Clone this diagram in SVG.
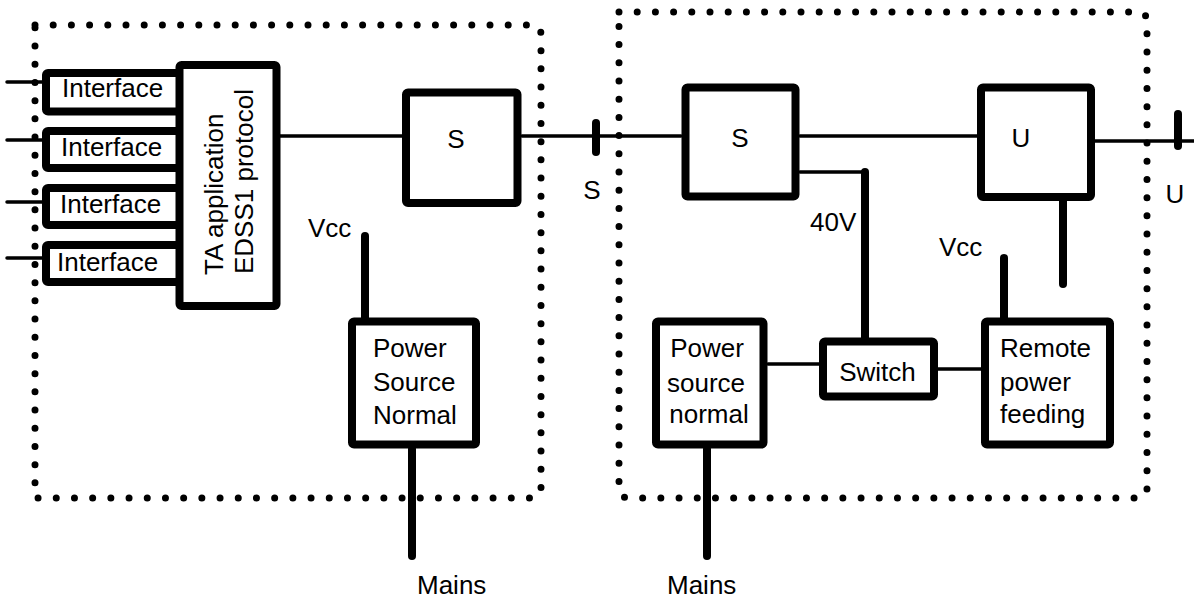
<svg xmlns="http://www.w3.org/2000/svg" width="1194" height="601" viewBox="0 0 1194 601">
<style>
text{font-family:"Liberation Sans",Arial,sans-serif;font-size:26px;fill:#000}
.box{fill:#fff;stroke:#000;stroke-width:8;stroke-linejoin:round}
.thin{stroke:#000;stroke-width:3.5;fill:none;stroke-linecap:round}
.thick{stroke:#000;stroke-width:8;fill:none;stroke-linecap:round}
.dots{fill:none;stroke:#000;stroke-width:7;stroke-linecap:round;stroke-dasharray:0 18.2}
.mid{text-anchor:middle}
</style>
<rect width="1194" height="601" fill="#fff"/>
<g id="boundaries">
<path class="dots" d="M35,25 H531 Q541,25 541,35 V488 Q541,498 531,498 H35 Z"/>
<path class="dots" d="M619,12 H1137 Q1147,12 1147,22 V488 Q1147,498 1137,498 H629 Q619,498 619,488 Z"/>
</g>
<g id="connectors">
<line class="thin" x1="7" y1="82" x2="46" y2="82"/>
<line class="thin" x1="7" y1="140" x2="46" y2="140"/>
<line class="thin" x1="7" y1="202" x2="46" y2="202"/>
<line class="thin" x1="7" y1="258" x2="46" y2="258"/>
<line class="thin" x1="280" y1="136" x2="406" y2="136"/>
<line class="thin" x1="522" y1="136" x2="681" y2="136"/>
<line class="thick" x1="596" y1="123" x2="596" y2="152"/>
<line class="thick" x1="365" y1="236" x2="365" y2="318"/>
<line class="thick" x1="412" y1="449" x2="412" y2="556"/>
<line class="thin" x1="800" y1="136" x2="977" y2="136"/>
<polyline class="thin" points="800,172 865,172" />
<line class="thick" x1="865" y1="172" x2="865" y2="338"/>
<line class="thin" x1="1039" y1="141" x2="1194" y2="141"/>
<line class="thick" x1="1178" y1="114" x2="1178" y2="146"/>
<line class="thick" x1="1063" y1="201" x2="1063" y2="284"/>
<line class="thick" x1="1004" y1="258" x2="1004" y2="318"/>
<line class="thin" x1="768" y1="364" x2="819" y2="364"/>
<line class="thin" x1="938" y1="369" x2="981" y2="369"/>
<line class="thick" x1="707" y1="449" x2="707" y2="556"/>
</g>
<g id="if1"><rect class="box" x="46" y="73" width="134" height="38.5" rx="2"/><text x="62" y="97">Interface</text></g>
<g id="if2"><rect class="box" x="46" y="131" width="134" height="37" rx="2"/><text x="61" y="156">Interface</text></g>
<g id="if3"><rect class="box" x="46" y="188" width="134" height="37" rx="2"/><text x="60" y="213">Interface</text></g>
<g id="if4"><rect class="box" x="46" y="245" width="134" height="37" rx="2"/><text x="57" y="271">Interface</text></g>
<g id="ta">
<rect class="box" x="179.5" y="65" width="97" height="241" rx="2"/>
<text transform="translate(223,275) rotate(-90)">TA application</text>
<text transform="translate(253,274) rotate(-90)">EDSS1 protocol</text>
</g>
<g id="s-left"><rect class="box" x="406" y="92.5" width="111.5" height="110.5" rx="2"/><text class="mid" x="456" y="148">S</text></g>
<g id="psn-left">
<rect class="box" x="352" y="321.5" width="124" height="123" rx="2"/>
<text x="373" y="357">Power</text><text x="373" y="391">Source</text><text x="373" y="424">Normal</text>
</g>
<g id="s-right"><rect class="box" x="685.5" y="87.5" width="110" height="109" rx="2"/><text class="mid" x="740" y="147">S</text></g>
<g id="u-box"><rect class="box" x="981" y="87.5" width="110" height="109.5" rx="2"/><text class="mid" x="1021" y="147">U</text></g>
<g id="psn-right">
<rect class="box" x="656" y="321.5" width="107.5" height="123" rx="2"/>
<text class="mid" x="707" y="357">Power</text><text class="mid" x="706" y="392">source</text><text class="mid" x="709" y="423">normal</text>
</g>
<g id="switch"><rect class="box" x="823" y="341.5" width="111" height="55" rx="2"/><text class="mid" x="877.5" y="381">Switch</text></g>
<g id="rpf">
<rect class="box" x="985" y="321.5" width="125" height="123" rx="2"/>
<text x="1000" y="357">Remote</text><text x="1000" y="391">power</text><text x="1000" y="423">feeding</text>
</g>
<g id="labels">
<text x="308" y="237">Vcc</text>
<text class="mid" x="592" y="199">S</text>
<text x="810" y="231">40V</text>
<text x="939" y="256">Vcc</text>
<text class="mid" x="1175" y="203">U</text>
<text x="417" y="594">Mains</text>
<text x="667" y="594">Mains</text>
</g>
</svg>
